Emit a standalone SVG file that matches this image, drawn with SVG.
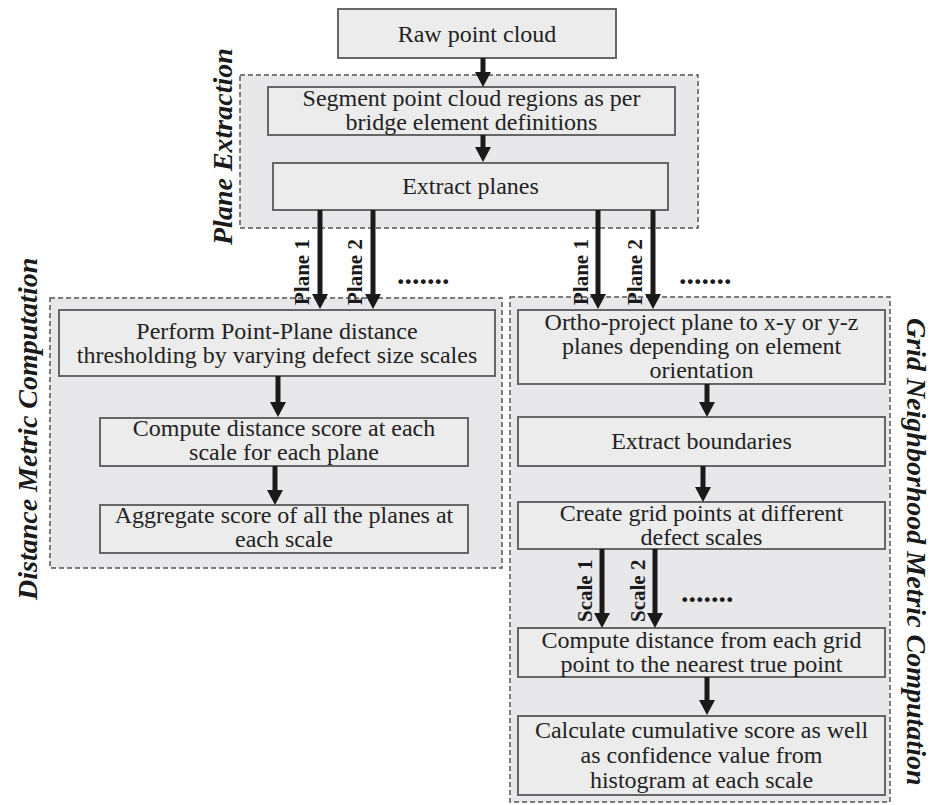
<svg xmlns="http://www.w3.org/2000/svg" width="933" height="805" viewBox="0 0 933 805">
<style>
.bg{fill:#ffffff}
.grp{fill:#e8e8ea;stroke:#555;stroke-width:1.5;stroke-dasharray:5,3}
.box{fill:#ececec;stroke:#666;stroke-width:2}
.t{font-family:"Liberation Serif","Times New Roman",serif;font-size:24px;fill:#222;text-anchor:middle}
.side{font-family:"Liberation Serif","Times New Roman",serif;font-size:28px;font-weight:bold;font-style:italic;fill:#1a1a1a}
.lab{font-family:"Liberation Serif","Times New Roman",serif;font-size:21px;font-weight:bold;fill:#1a1a1a}
.dots{font-family:"Liberation Serif","Times New Roman",serif;font-size:30px;font-weight:bold;fill:#1a1a1a}
.c{stroke:#1a1a1a;stroke-width:5;fill:none;marker-end:url(#ah)}
</style>
<defs>
<marker id="ah" markerUnits="userSpaceOnUse" markerWidth="15" markerHeight="16" refX="1" refY="8" orient="auto">
<path d="M0,0 L15,8 L0,16 z" fill="#1a1a1a"/>
</marker>
</defs>
<rect class="bg" x="0" y="0" width="933" height="805"/>

<g id="group-plane-extraction">
<rect class="grp" x="240" y="75" width="458" height="153"/>
<text class="side" transform="translate(232,245) rotate(-90)">Plane Extraction</text>
</g>
<g id="group-distance-metric">
<rect class="grp" x="50" y="298" width="452" height="270"/>
<text class="side" transform="translate(37,600) rotate(-90)">Distance Metric Computation</text>
</g>
<g id="group-grid-metric">
<rect class="grp" x="510" y="297" width="380" height="505"/>
<text class="side" transform="translate(907,318) rotate(90)">Grid Neighborhood Metric Computation</text>
</g>

<g id="raw">
<rect class="box" x="338" y="9" width="278" height="49"/>
<text class="t" x="477" y="42">Raw point cloud</text>
</g>
<g id="segment">
<rect class="box" x="268" y="87" width="407" height="48"/>
<text class="t" x="471.5" y="106">Segment point cloud regions as per</text>
<text class="t" x="471.5" y="130">bridge element definitions</text>
</g>
<g id="extract-planes">
<rect class="box" x="273" y="163" width="395" height="47"/>
<text class="t" x="470.5" y="194">Extract planes</text>
</g>

<g id="perform">
<rect class="box" x="59" y="310" width="436" height="66"/>
<text class="t" x="277" y="339">Perform Point-Plane distance</text>
<text class="t" x="277" y="363">thresholding by varying defect size scales</text>
</g>
<g id="compute-score">
<rect class="box" x="100" y="418" width="368" height="48"/>
<text class="t" x="284" y="436">Compute distance score at each</text>
<text class="t" x="284" y="460">scale for each plane</text>
</g>
<g id="aggregate">
<rect class="box" x="100" y="505" width="368" height="48"/>
<text class="t" x="284" y="523">Aggregate score of all the planes at</text>
<text class="t" x="284" y="547">each scale</text>
</g>

<g id="ortho">
<rect class="box" x="518" y="310" width="367" height="74"/>
<text class="t" x="701.5" y="330">Ortho-project plane to x-y or y-z</text>
<text class="t" x="701.5" y="354">planes depending on element</text>
<text class="t" x="701.5" y="378">orientation</text>
</g>
<g id="extract-boundaries">
<rect class="box" x="518" y="417" width="367" height="49"/>
<text class="t" x="701.5" y="449">Extract boundaries</text>
</g>
<g id="create-grid">
<rect class="box" x="518" y="502" width="367" height="47"/>
<text class="t" x="701.5" y="521">Create grid points at different</text>
<text class="t" x="701.5" y="545">defect scales</text>
</g>
<g id="compute-distance">
<rect class="box" x="518" y="628" width="367" height="49"/>
<text class="t" x="701.5" y="648">Compute distance from each grid</text>
<text class="t" x="701.5" y="672">point to the nearest true point</text>
</g>
<g id="calculate">
<rect class="box" x="518" y="716" width="367" height="79"/>
<text class="t" x="701.5" y="738">Calculate cumulative score as well</text>
<text class="t" x="701.5" y="763">as confidence value from</text>
<text class="t" x="701.5" y="788">histogram at each scale</text>
</g>

<g id="connectors">
<line class="c" x1="483" y1="58" x2="483" y2="73"/>
<line class="c" x1="483" y1="135" x2="483" y2="148"/>
<line class="c" x1="320" y1="210" x2="320" y2="295"/>
<line class="c" x1="373" y1="210" x2="373" y2="295"/>
<line class="c" x1="598" y1="210" x2="598" y2="295"/>
<line class="c" x1="653" y1="210" x2="653" y2="295"/>
<line class="c" x1="278" y1="376" x2="278" y2="403"/>
<line class="c" x1="275" y1="466" x2="275" y2="491"/>
<line class="c" x1="707" y1="384" x2="707" y2="403"/>
<line class="c" x1="703" y1="466" x2="703" y2="488"/>
<line class="c" x1="602" y1="549" x2="602" y2="614"/>
<line class="c" x1="655" y1="549" x2="655" y2="614"/>
<line class="c" x1="707" y1="677" x2="707" y2="701"/>
<text class="lab" transform="translate(309,305) rotate(-90)">Plane 1</text>
<text class="lab" transform="translate(362,305) rotate(-90)">Plane 2</text>
<text class="lab" transform="translate(588,305) rotate(-90)">Plane 1</text>
<text class="lab" transform="translate(642,305) rotate(-90)">Plane 2</text>
<text class="lab" transform="translate(592,622) rotate(-90)">Scale 1</text>
<text class="lab" transform="translate(645,622) rotate(-90)">Scale 2</text>
<text class="dots" x="397" y="284">.......</text>
<text class="dots" x="679" y="284">.......</text>
<text class="dots" x="681" y="602">.......</text>
</g>
</svg>
